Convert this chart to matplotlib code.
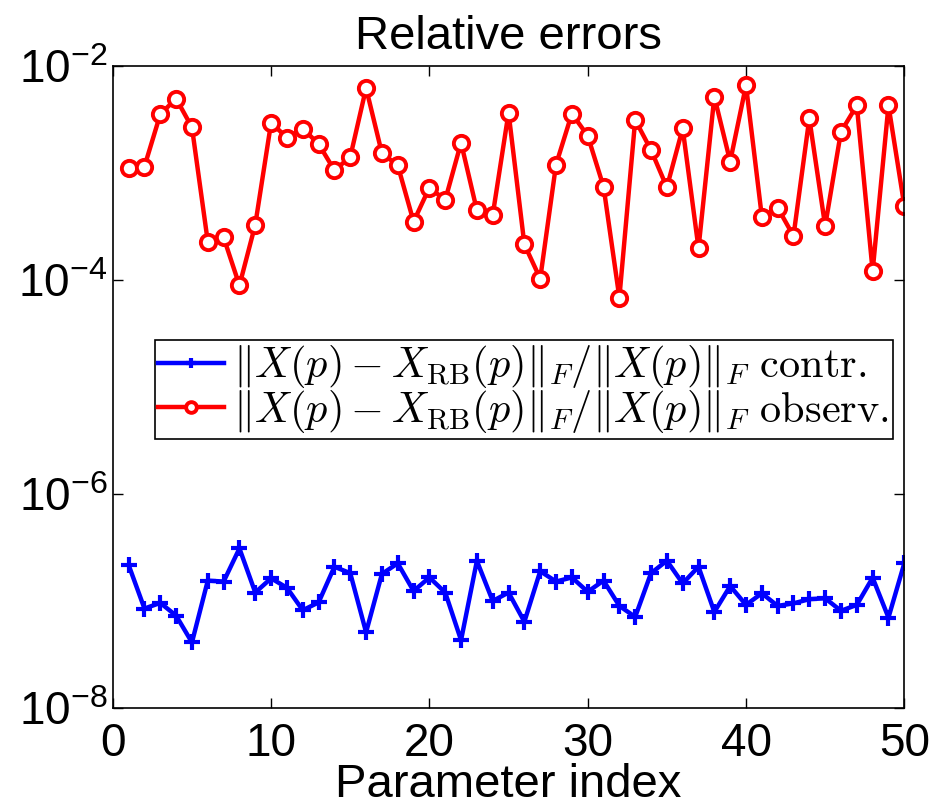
import matplotlib
matplotlib.use("Agg")
import matplotlib.pyplot as plt
from matplotlib.font_manager import FontProperties
from matplotlib.ticker import FixedLocator, FuncFormatter, NullLocator
import math

# ---- data -------------------------------------------------------------
param_index = list(range(1, 51))

err_contr = [2.17e-7, 8.5e-8, 9.6e-8, 7.3e-8, 4.1e-8, 1.55e-7, 1.52e-7, 3.1e-7, 1.2e-7, 1.63e-7,
             1.33e-7, 8.2e-8, 9.7e-8, 2.09e-7, 1.82e-7, 5.1e-8, 1.79e-7, 2.25e-7, 1.24e-7, 1.66e-7,
             1.2e-7, 4.3e-8, 2.37e-7, 1.0e-7, 1.2e-7, 6.4e-8, 1.9e-7, 1.52e-7, 1.66e-7, 1.22e-7,
             1.55e-7, 9.0e-8, 7.1e-8, 1.82e-7, 2.38e-7, 1.46e-7, 2.09e-7, 7.9e-8, 1.38e-7, 9.2e-8,
             1.18e-7, 9.0e-8, 9.5e-8, 1.04e-7, 1.06e-7, 8.1e-8, 9.2e-8, 1.65e-7, 7.0e-8, 2.25e-7]

err_observ = [1.12e-3, 1.15e-3, 3.54e-3, 4.96e-3, 2.67e-3, 2.28e-4, 2.5e-4, 8.9e-5, 3.29e-4, 2.95e-3,
              2.14e-3, 2.6e-3, 1.87e-3, 1.06e-3, 1.41e-3, 6.22e-3, 1.53e-3, 1.18e-3, 3.51e-4, 7.3e-4,
              5.6e-4, 1.92e-3, 4.48e-4, 4.05e-4, 3.66e-3, 2.15e-4, 1.03e-4, 1.2e-3, 3.59e-3, 2.23e-3,
              7.45e-4, 6.84e-5, 3.13e-3, 1.64e-3, 7.35e-4, 2.61e-3, 1.98e-4, 5.17e-3, 1.28e-3, 6.6e-3,
              3.91e-4, 4.74e-4, 2.58e-4, 3.24e-3, 3.2e-4, 2.43e-3, 4.28e-3, 1.21e-4, 4.28e-3, 4.96e-4]

x_ticks = [0, 10, 20, 30, 40, 50]
y_ticks = [1e-8, 1e-6, 1e-4, 1e-2]

label_contr = r'$\|X(p) - X_{\mathrm{RB}}(p)\|_F/\|X(p)\|_F\ \mathrm{contr.}$'
label_observ = r'$\|X(p) - X_{\mathrm{RB}}(p)\|_F/\|X(p)\|_F\ \mathrm{observ.}$'
title_text = 'Relative errors'
xlabel_text = 'Parameter index'

# ---- figure -----------------------------------------------------------
plt.rcParams['font.family'] = ['Liberation Sans', 'DejaVu Sans']
fig = plt.figure(figsize=(9.33, 8.06), dpi=100)
ax = fig.add_axes([112.8 / 933, 1 - 708 / 806, (904.3 - 112.8) / 933, (708 - 66) / 806])

ax.plot(param_index, err_contr, color='#0000ff', lw=3.2, marker='+', ms=11, mew=3.0,
        label=label_contr)
ax.plot(param_index, err_observ, color='#ff0000', lw=3.2, marker='o', ms=11, mew=2.8,
        markerfacecolor='white', label=label_observ)

ax.set_yscale('log')
ax.set_xlim(0, 50)
ax.set_ylim(1e-8, 1e-2)
ax.xaxis.set_major_locator(FixedLocator(x_ticks))
ax.yaxis.set_major_locator(FixedLocator(y_ticks))
ax.yaxis.set_minor_locator(NullLocator())
ax.xaxis.set_minor_locator(NullLocator())

def fmt_log(v, pos):
    e = int(round(math.log10(v)))
    return r'$\mathdefault{10^{%d}}$' % e

ax.yaxis.set_major_formatter(FuncFormatter(fmt_log))

ax.tick_params(axis='both', which='major', direction='in', length=7, width=1,
               top=True, right=True, labelsize=33)
ax.tick_params(axis='x', pad=10)
ax.tick_params(axis='y', pad=4)
for s in ax.spines.values():
    s.set_linewidth(1.2)

ax.set_title(title_text, fontsize=34, pad=12)
ax.set_xlabel(xlabel_text, fontsize=34, labelpad=-2)

leg_prop = FontProperties(size=30.5, math_fontfamily='cm')
leg = ax.legend(loc='upper left', bbox_to_anchor=(155 / 933, 1 - 340 / 806),
                bbox_transform=fig.transFigure, prop=leg_prop, frameon=True,
                fancybox=False, framealpha=1, edgecolor='black', borderaxespad=0,
                handlelength=1.55, handletextpad=0.22, borderpad=0.08, labelspacing=-0.05,
                markerscale=0.7)
leg.get_frame().set_linewidth(1.2)

fig.savefig('out.png', dpi=100)
